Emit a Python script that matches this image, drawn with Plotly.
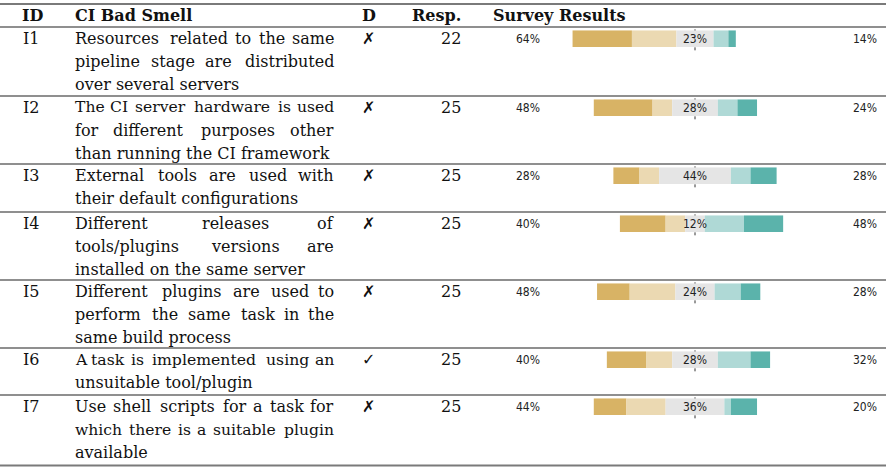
import plotly.graph_objects as go

# ---------------- data ----------------
ids = ["I1", "I2", "I3", "I4", "I5", "I6", "I7"]
smells = [
    ["Resources related to the same", "pipeline stage are distributed", "over several servers"],
    ["The CI server hardware is used", "for different purposes other", "than running the CI framework"],
    ["External tools are used with", "their default configurations"],
    ["Different releases of", "tools/plugins versions are", "installed on the same server"],
    ["Different plugins are used to", "perform the same task in the", "same build process"],
    ["A task is implemented using an", "unsuitable tool/plugin"],
    ["Use shell scripts for a task for", "which there is a suitable plugin", "available"],
]
detected = ["\u2717", "\u2717", "\u2717", "\u2717", "\u2717", "\u2713", "\u2717"]
responses = [22, 25, 25, 25, 25, 25, 25]
strongly_disagree = [8, 9, 4, 7, 5, 6, 5]
disagree = [6, 3, 3, 3, 7, 4, 6]
neutral = [5, 7, 11, 3, 6, 7, 9]
agree = [2, 3, 3, 6, 4, 5, 1]
strongly_agree = [1, 3, 4, 6, 3, 3, 4]
headers = ["ID", "CI Bad Smell", "D", "Resp.", "Survey Results"]

# ---------------- styling / layout ----------------
W, H = 886, 467
colors = ["#D8B365", "#EBD9B2", "#E5E5E5", "#AFD9D6", "#5BB3AB"]
SERIF = "DejaVu Serif, serif"
NARROW = "DejaVu Sans Condensed, Liberation Sans Narrow, Arial Narrow, sans-serif"
FS = 16
row_tops = [27, 96, 164, 212, 280, 348, 395]
bottom = 465.5
LINE = 23
X_ID, X_TXT, X_TXT_R, X_D, X_RESP = 21, 73, 336, 368, 463
MIN_GAP = 5.0

# approximate advance widths (em) for DejaVu Serif, used for justification
GLYPH_W = {' ': .318, 'a': .596, 'b': .640, 'c': .560, 'd': .640, 'e': .592, 'f': .370,
           'g': .640, 'h': .644, 'i': .320, 'j': .310, 'k': .606, 'l': .320, 'm': .948,
           'n': .644, 'o': .602, 'p': .640, 'q': .640, 'r': .478, 's': .513, 't': .402,
           'u': .644, 'v': .565, 'w': .856, 'x': .564, 'y': .565, 'z': .527, 'A': .722,
           'C': .734, 'D': .830, 'E': .730, 'I': .394, 'R': .770, 'T': .706, 'U': .812,
           '/': .337}


def tw(s, size=FS):
    return sum(GLYPH_W.get(c, .6) for c in s) * size * 1.06


def px(x):
    return x / W


def py(y):
    return 1 - y / H


fig = go.Figure()
annotations = []
shapes = []


def add_text(x, y, text, xanchor="left", size=FS, font=SERIF, color="#111"):
    annotations.append(dict(x=px(x), y=py(y), xref="paper", yref="paper", text=text,
                            showarrow=False, xanchor=xanchor, yanchor="middle",
                            font=dict(family=font, size=size, color=color)))


# header
hy = 15
add_text(X_ID - 1, hy, "<b>%s</b>" % headers[0])
add_text(X_TXT, hy, "<b>%s</b>" % headers[1])
add_text(X_D + 1, hy, "<b>%s</b>" % headers[2], xanchor="center")
add_text(X_RESP, hy, "<b>%s</b>" % headers[3], xanchor="right")
add_text(491, hy, "<b>%s</b>" % headers[4])


def hline(y, w, c="#6a6a6a"):
    shapes.append(dict(type="line", xref="paper", yref="paper", x0=0, x1=1,
                       y0=py(y), y1=py(y), line=dict(color=c, width=w)))


hline(4, 2.2, "#7a7a7a")
for t in row_tops:
    hline(t, 1.3)
hline(bottom, 2.2, "#7a7a7a")


def justify(words, y):
    """Spread words over the column width: first word left-aligned, last word
    right-aligned, inner words centred on their estimated centres."""
    n = len(words)
    size = FS
    span = X_TXT_R - X_TXT
    total = sum(tw(w, size) for w in words)
    if (span - total) / (n - 1) < MIN_GAP:
        size = FS * (span - MIN_GAP * (n - 1)) / total
    widths = [tw(w, size) for w in words]
    gap = (span - sum(widths)) / (n - 1)
    x = X_TXT
    for j, w in enumerate(words):
        if j == 0:
            add_text(X_TXT, y, w, size=size)
        elif j == n - 1:
            add_text(X_TXT_R, y, w, xanchor="right", size=size)
        else:
            add_text(x + widths[j] / 2, y, w, xanchor="center", size=size)
        x += widths[j] + gap


# rows
for i in range(len(ids)):
    top = row_tops[i]
    cy = top + 11.5
    add_text(X_ID, cy, ids[i])
    add_text(X_D, cy, "<b>%s</b>" % detected[i], xanchor="center", font="DejaVu Sans", size=16)
    add_text(X_RESP, cy, str(responses[i]), xanchor="right")
    lines = smells[i]
    for k, ln in enumerate(lines):
        y = cy + LINE * k
        if k == len(lines) - 1:
            add_text(X_TXT, y, ln)
        else:
            justify(ln.split(), y)

    # survey mini-plot
    n = "" if i == 0 else str(i + 1)
    xa, ya = "x" + n, "y" + n
    counts = [strongly_disagree[i], disagree[i], neutral[i], agree[i], strongly_agree[i]]
    pct = [c / responses[i] * 100 for c in counts]
    start = -(pct[0] + pct[1] + pct[2] / 2)
    for c, p in zip(colors, pct):
        fig.add_trace(go.Bar(y=[0], x=[p], base=[start], orientation="h", width=1,
                             marker=dict(color=c, line=dict(width=0)),
                             xaxis=xa, yaxis=ya, showlegend=False, hoverinfo="skip"))
        start += p
    y0 = 1 - (top + 20) / H
    y1 = 1 - (top + 3.3) / H
    fig.update_layout(**{
        ("xaxis" + n): dict(domain=[504 / W, 1], range=[-117, 117], visible=False,
                            fixedrange=True, anchor=ya),
        ("yaxis" + n): dict(domain=[y0, y1], range=[-0.5, 0.5], visible=False,
                            fixedrange=True, anchor=xa),
    })
    shapes.append(dict(type="line", xref=xa, yref=ya + " domain", x0=0, x1=0,
                       y0=-0.2, y1=1.2, layer="below",
                       line=dict(color="#333", width=1, dash="dot")))
    left = round(pct[0] + pct[1])
    mid = round(pct[2])
    right = round(pct[3] + pct[4])
    lab = dict(showarrow=False, xref=xa, yref=ya, y=0, yanchor="middle",
               font=dict(family=NARROW, size=12, color="#222"))
    annotations.append(dict(lab, x=-111, xanchor="left", text="%d%%" % left))
    annotations.append(dict(lab, x=0, xanchor="center", text="%d%%" % mid))
    annotations.append(dict(lab, x=113, xanchor="right", text="%d%%" % right))

fig.update_layout(width=W, height=H, margin=dict(l=0, r=0, t=0, b=0),
                  paper_bgcolor="white", plot_bgcolor="rgba(0,0,0,0)",
                  barmode="overlay", annotations=annotations, shapes=shapes)
fig.write_html("out.html", config={"displayModeBar": False},
               post_script="document.body.style.margin='0';document.body.style.overflow='hidden';")
